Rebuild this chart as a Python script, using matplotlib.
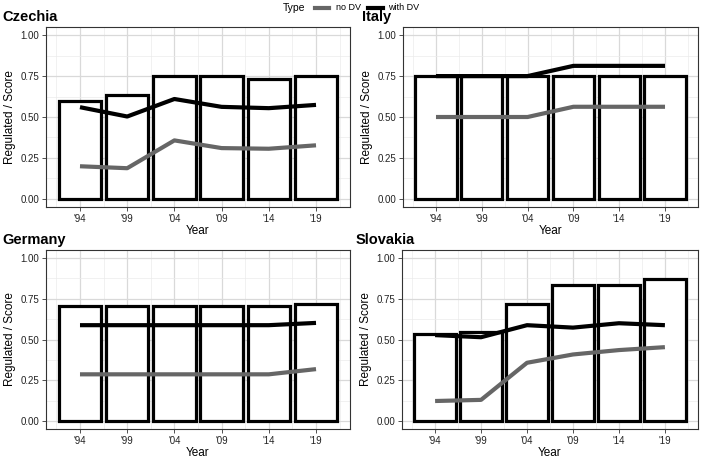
import numpy as np
import matplotlib.pyplot as plt

plt.rcParams['font.family'] = ['Liberation Sans', 'DejaVu Sans']

years = ["'94", "'99", "'04", "'09", "'14", "'19"]
countries = ["Czechia", "Italy", "Germany", "Slovakia"]

# bar heights (Regulated)
reg_cz = [0.60, 0.635, 0.75, 0.75, 0.73, 0.75]
reg_it = [0.75, 0.75, 0.75, 0.75, 0.75, 0.75]
reg_de = [0.704, 0.704, 0.704, 0.704, 0.704, 0.718]
reg_sk = [0.533, 0.549, 0.718, 0.833, 0.833, 0.869]

# score lines
dv_cz = [0.56, 0.503, 0.61, 0.562, 0.554, 0.574]
dv_it = [0.75, 0.75, 0.75, 0.8125, 0.8125, 0.8125]
dv_de = [0.588, 0.588, 0.588, 0.588, 0.588, 0.602]
dv_sk = [0.527, 0.514, 0.588, 0.573, 0.60, 0.588]

nodv_cz = [0.199, 0.187, 0.357, 0.31, 0.306, 0.327]
nodv_it = [0.5, 0.5, 0.5, 0.5625, 0.5625, 0.5625]
nodv_de = [0.286, 0.286, 0.286, 0.286, 0.286, 0.318]
nodv_sk = [0.122, 0.129, 0.357, 0.408, 0.435, 0.453]

regs = [reg_cz, reg_it, reg_de, reg_sk]
dvs = [dv_cz, dv_it, dv_de, dv_sk]
nodvs = [nodv_cz, nodv_it, nodv_de, nodv_sk]

W, H = 709, 459
fig = plt.figure(figsize=(W / 100, H / 100), dpi=100)

# axes boxes in pixels: left, top, right, bottom
boxes = [(46, 27, 350, 207), (403, 27, 698, 207),
         (46, 250, 350, 429), (402, 250, 698, 429)]
title_x = [2, 362, 2, 356]

grey_line = '#666666'
x = np.arange(len(years))

for i in range(4):
    l, t, r, b = boxes[i]
    ax = fig.add_axes([l / W, 1 - b / H, (r - l) / W, (b - t) / H])
    ax.bar(x, regs[i], width=0.9, facecolor='white', edgecolor='black',
           linewidth=2.3, zorder=2)
    ax.plot(x, nodvs[i], color=grey_line, lw=3, zorder=3, solid_capstyle='butt')
    ax.plot(x, dvs[i], color='black', lw=3, zorder=4, solid_capstyle='butt')

    ax.set_xlim(-0.72, 5.72)
    ax.set_ylim(-0.05, 1.05)
    ax.set_xticks(x)
    ax.set_xticklabels(years)
    ax.set_xticks(np.arange(-0.5, 6, 1), minor=True)
    ax.set_yticks([0, 0.25, 0.5, 0.75, 1.0])
    ax.set_yticklabels(['0.00', '0.25', '0.50', '0.75', '1.00'])
    ax.set_yticks(np.arange(0.125, 1.0, 0.25), minor=True)
    ax.grid(True, which='major', color='#d9d9d9', lw=0.9, zorder=0)
    ax.grid(True, which='minor', color='#ebebeb', lw=0.5, zorder=0)
    ax.set_axisbelow(True)
    ax.tick_params(which='major', length=3, width=0.6, color='#333333',
                   labelsize=7, labelcolor='#222222', pad=2)
    ax.tick_params(which='minor', length=0)
    for s in ax.spines.values():
        s.set_color('#333333')
        s.set_linewidth(0.8)
    ax.set_xlabel('Year', fontsize=8.5, labelpad=1)
    ax.set_ylabel('Regulated / Score', fontsize=8.5, labelpad=3)
    fig.text(title_x[i] / W, 1 - (t - 3) / H, countries[i],
             fontsize=10.5, fontweight='bold', ha='left', va='bottom')

# legend at top
ly = 1 - 8 / H
fig.text(283 / W, ly, 'Type', fontsize=7.5, va='center', ha='left')
fig.add_artist(plt.Line2D([315 / W, 329 / W], [ly, ly], color=grey_line, lw=3))
fig.text(336 / W, ly, 'no DV', fontsize=6.5, va='center', ha='left')
fig.add_artist(plt.Line2D([368 / W, 383 / W], [ly, ly], color='black', lw=3))
fig.text(388 / W, ly, 'with DV', fontsize=6.5, va='center', ha='left')

fig.savefig('out.png', dpi=100)
